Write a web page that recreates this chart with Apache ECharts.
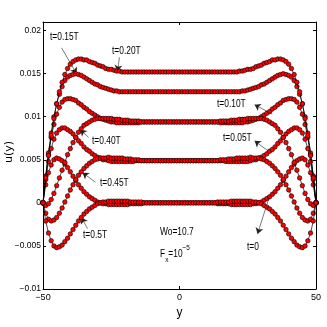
<!doctype html>
<html>
<head>
<meta charset="UTF-8">
<title></title>
<script src="https://cdn.jsdelivr.net/npm/echarts@6/dist/echarts.min.js"></script>
<style>
html,body{margin:0;padding:0;background:#fff;}
#main{width:327px;height:327px;}
</style>
</head>
<body>
<div id="main"></div>
<script>
// y positions across the channel, -50 .. 50
var ys = [];
for (var i = -50; i <= 50; i++) ys.push(i);

// half profiles u(y), read from wall (y=-50) to centre (y=0); curves are symmetric
var uT000 = [0,0.0021,0.0035,0.0044,0.0050,0.0052,0.0051,0.0049,0.0045,0.0041,0.0036,0.0031,0.0026,0.0021,0.0017,0.0013,0.0010,0.0007,0.0005,0.0003,0.0001,0,-0.0001,-0.0001,-0.0002,-0.0002,-0.0002,-0.0002,-0.0002,-0.0002,-0.0002,
  -0.0002,-0.0001,-0.0001,-0.0001,-0.0001,-0.0001,0,0,0,0,0,0,0,0,0,0,0,0,0,0];
var uT005 = [0,0.0027,0.0048,0.0063,0.0074,0.0081,0.0085,0.0087,0.0087,0.0085,0.0083,0.0080,0.0076,0.0072,0.0069,0.0065,0.0062,0.0060,0.0057,0.0055,0.0053,0.0052,0.0050,0.0050,0.0049,0.0048,0.0048,0.0048,0.0048,0.0048,0.0048,
  0.0048,0.0048,0.0048,0.0049,0.0049,0.0049,0.0049,0.0049,0.0049,0.0049,0.0049,0.0049,0.0049,0.0049,0.0049,0.0049,0.0049,0.0049,0.0049,0.0049];
var uT010 = [0,0.0031,0.0056,0.0076,0.0091,0.0103,0.0111,0.0117,0.0120,0.0121,0.0121,0.0120,0.0119,0.0116,0.0114,0.0111,0.0109,0.0106,0.0104,0.0102,0.0100,0.0098,0.0097,0.0096,0.0095,0.0094,0.0094,0.0093,0.0093,0.0093,0.0093,
  0.0093,0.0093,0.0093,0.0093,0.0093,0.0094,0.0094,0.0094,0.0094,0.0094,0.0094,0.0094,0.0094,0.0094,0.0094,0.0094,0.0094,0.0094,0.0094,0.0094];
var uT015 = [0,0.0031,0.0058,0.0081,0.0100,0.0115,0.0126,0.0135,0.0142,0.0146,0.0148,0.0149,0.0150,0.0149,0.0148,0.0146,0.0144,0.0142,0.0140,0.0138,0.0137,0.0135,0.0134,0.0133,0.0132,0.0131,0.0130,0.0130,0.0129,0.0129,0.0129,
  0.0129,0.0129,0.0129,0.0129,0.0129,0.0129,0.0129,0.0129,0.0129,0.0129,0.0129,0.0129,0.0129,0.0129,0.0129,0.0129,0.0129,0.0129,0.0129,0.0129];
var uT020 = [0,0.0029,0.0055,0.0078,0.0098,0.0115,0.0129,0.0140,0.0149,0.0156,0.0161,0.0164,0.0166,0.0167,0.0167,0.0166,0.0166,0.0164,0.0163,0.0162,0.0160,0.0159,0.0158,0.0156,0.0155,0.0155,0.0154,0.0153,0.0153,0.0152,0.0152,
  0.0152,0.0152,0.0152,0.0152,0.0152,0.0152,0.0152,0.0152,0.0152,0.0152,0.0152,0.0152,0.0152,0.0152,0.0152,0.0152,0.0152,0.0152,0.0152,0.0152];
var uT040 = [0,-0.0003,-0.0001,0.0004,0.0011,0.0020,0.0029,0.0038,0.0047,0.0056,0.0063,0.0070,0.0076,0.0082,0.0086,0.0090,0.0092,0.0094,0.0096,0.0097,0.0098,0.0098,0.0098,0.0098,0.0098,0.0098,0.0097,0.0097,0.0097,0.0096,0.0096,
  0.0096,0.0095,0.0095,0.0095,0.0095,0.0094,0.0094,0.0094,0.0094,0.0094,0.0094,0.0094,0.0094,0.0094,0.0094,0.0094,0.0094,0.0094,0.0094,0.0094];
var uT045 = [0,-0.0012,-0.0019,-0.0021,-0.0020,-0.0017,-0.0012,-0.0006,0.0001,0.0008,0.0015,0.0021,0.0027,0.0032,0.0036,0.0040,0.0043,0.0046,0.0048,0.0050,0.0051,0.0052,0.0052,0.0052,0.0053,0.0052,0.0052,0.0052,0.0052,0.0052,0.0051,
  0.0051,0.0051,0.0050,0.0050,0.0050,0.0049,0.0049,0.0049,0.0049,0.0049,0.0049,0.0049,0.0049,0.0049,0.0049,0.0049,0.0049,0.0049,0.0049,0.0049];
var uT050 = [0,-0.0021,-0.0035,-0.0044,-0.0050,-0.0052,-0.0051,-0.0049,-0.0045,-0.0041,-0.0036,-0.0031,-0.0026,-0.0021,-0.0017,-0.0013,-0.0010,-0.0007,-0.0005,-0.0003,-0.0001,0,0.0001,0.0001,0.0002,0.0002,0.0002,0.0002,0.0002,0.0002,0.0002,
  0.0002,0.0001,0.0001,0.0001,0.0001,0.0001,0,0,0,0,0,0,0,0,0,0,0,0,0,0];

var profiles = [uT000, uT005, uT010, uT015, uT020, uT040, uT045, uT050];

// annotation arrows: [from, to] in data units, head at "to"
var arrows = [
  [[-43.2, 0.0180], [-37.7, 0.0150]],   // t=0.15T
  [[-22.0, 0.0169], [-22.7, 0.0153]],   // t=0.20T
  [[34.0, 0.0103], [27.5, 0.0114]],     // t=0.10T
  [[32.6, 0.0060], [27.5, 0.0072]],     // t=0.05T
  [[-33.3, 0.0076], [-36.3, 0.0085]],   // t=0.40T
  [[-30.8, 0.0024], [-35.5, 0.0035]],   // t=0.45T
  [[-33.7, -0.0030], [-35.9, -0.0017]], // t=0.5T
  [[33.0, 0.0008], [28.6, -0.0036]]     // t=0
];

var FONT = '"Liberation Sans","Arial",sans-serif';

function full(half) {
  return half.concat(half.slice(0, half.length - 1).reverse());
}

var series = profiles.map(function (h, k) {
  var u = full(h);
  return {
    type: 'line',
    data: ys.map(function (y, i) { return [y, u[i]]; }),
    symbol: 'circle',
    symbolSize: 4.5,
    showAllSymbol: true,
    lineStyle: { color: '#000', width: 0.7 },
    itemStyle: { color: '#ff0000', borderColor: '#000', borderWidth: 0.6 },
    emphasis: { disabled: true },
    silent: true,
    z: 2 + k
  };
});

series.push({
  type: 'line',
  data: [],
  silent: true,
  z: 20,
  markLine: {
    silent: true,
    animation: false,
    symbol: ['none', 'arrow'],
    symbolSize: 6,
    label: { show: false },
    lineStyle: { color: '#222', width: 0.6, type: 'solid' },
    emphasis: { disabled: true },
    data: arrows.map(function (a) { return [{ coord: a[0] }, { coord: a[1] }]; })
  }
});

function minus(s) { return s.replace('-', '\u2212'); }

// MATLAB-ish narrow text: squeeze horizontally
function txt(x, y, s) {
  return { type: 'text', x: x, y: y, scaleX: 0.8, z: 50,
    style: { text: s, fill: '#000', font: '10.5px ' + FONT, verticalAlign: 'middle' } };
}

var chart = echarts.init(document.getElementById('main'));
chart.setOption({
  animation: false,
  backgroundColor: '#fff',
  grid: { left: 43, right: 11, top: 22, bottom: 38, containLabel: false, outerBoundsMode: 'none' },
  xAxis: [{
    type: 'value', min: -50, max: 50, interval: 50, position: 'bottom',
    name: 'y', nameLocation: 'middle', nameGap: 17,
    nameTextStyle: { color: '#000', fontSize: 12, fontFamily: FONT },
    axisLine: { onZero: false, lineStyle: { color: '#000', width: 1 } },
    axisTick: { inside: true, length: 3, lineStyle: { color: '#000' } },
    axisLabel: { color: '#000', fontSize: 9, fontFamily: FONT, margin: 4,
      formatter: function (v) { return minus(String(v)); } },
    splitLine: { show: false }
  }, {
    type: 'value', min: -50, max: 50, interval: 50, position: 'top',
    axisLine: { onZero: false, lineStyle: { color: '#000', width: 1 } },
    axisTick: { inside: true, length: 3, lineStyle: { color: '#000' } },
    axisLabel: { show: false },
    splitLine: { show: false }
  }],
  yAxis: [{
    type: 'value', min: -0.01, max: 0.021, interval: 0.005, position: 'left',
    axisLine: { onZero: false, lineStyle: { color: '#000', width: 1 } },
    axisTick: { inside: true, length: 3, lineStyle: { color: '#000' } },
    axisLabel: { color: '#000', fontSize: 8.5, fontFamily: FONT, margin: 2, showMaxLabel: false,
      formatter: function (v) {
        var q = v / 0.005;
        if (Math.abs(q - Math.round(q)) > 1e-6) return '';
        if (Math.abs(v) < 1e-9) return '0';
        return minus(String(+v.toFixed(3)));
      } },
    splitLine: { show: false }
  }, {
    type: 'value', min: -0.01, max: 0.021, interval: 0.005, position: 'right',
    axisLine: { onZero: false, lineStyle: { color: '#000', width: 1 } },
    axisTick: { inside: true, length: 3, lineStyle: { color: '#000' } },
    axisLabel: { show: false },
    splitLine: { show: false }
  }],
  series: series,
  graphic: [
    {
      type: 'text', x: 9, y: 152, rotation: Math.PI / 2, z: 50,
      style: { text: 'u(y)', fill: '#000', font: '11px "DejaVu Sans",sans-serif',
        align: 'center', verticalAlign: 'middle' }
    },
    txt(50, 37, 't=0.15T'),
    txt(112, 51, 't=0.20T'),
    txt(217, 104, 't=0.10T'),
    txt(223, 138, 't=0.05T'),
    txt(92, 141, 't=0.40T'),
    txt(100, 183, 't=0.45T'),
    txt(83, 235, 't=0.5T'),
    txt(247, 247, 't=0'),
    txt(160, 232, 'Wo=10.7'),
    {
      type: 'text', x: 160, y: 254, scaleX: 0.8, z: 50,
      style: {
        text: '{a|F}{s|x}{a|=10}{p|\u22125}',
        verticalAlign: 'middle',
        rich: {
          a: { fontSize: 10.5, fontFamily: FONT, fill: '#000', lineHeight: 20, verticalAlign: 'middle' },
          s: { fontSize: 8, fontFamily: FONT, fill: '#000', lineHeight: 20, verticalAlign: 'bottom' },
          p: { fontSize: 8, fontFamily: FONT, fill: '#000', lineHeight: 20, verticalAlign: 'top' }
        }
      }
    }
  ]
});
</script>
</body>
</html>
